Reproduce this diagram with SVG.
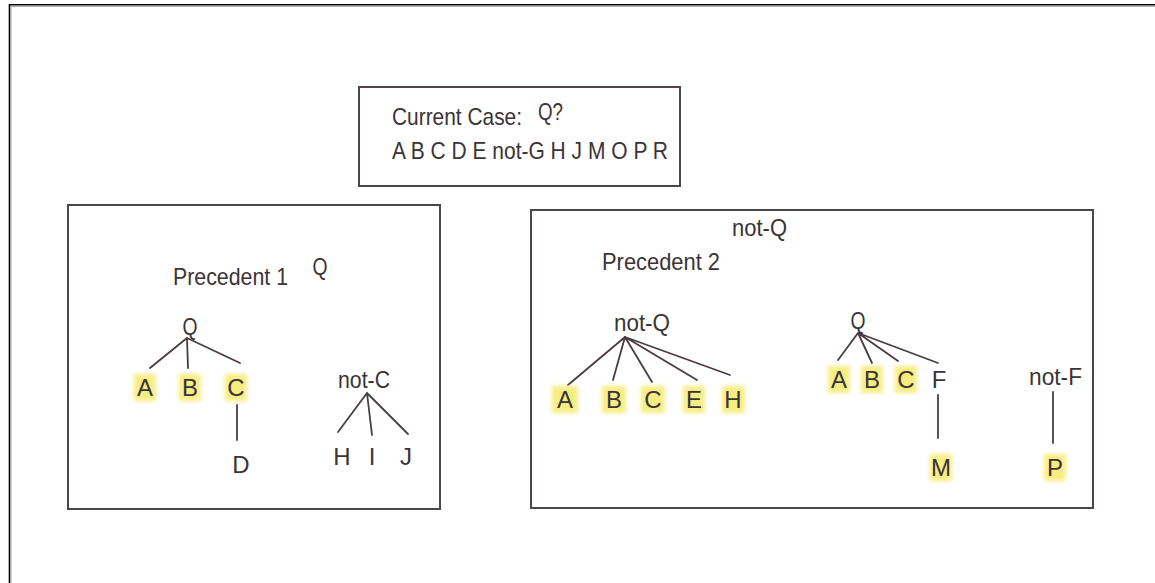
<svg xmlns="http://www.w3.org/2000/svg" width="1155" height="583" viewBox="0 0 1155 583">
  <defs>
    <filter id="glow" x="-40%" y="-40%" width="180%" height="180%">
      <feGaussianBlur stdDeviation="2"/>
    </filter>
    <style>
      .frame { fill: none; stroke: #4e4449; stroke-width: 2; }
      .txt { font-family: "Liberation Sans", "DejaVu Sans", sans-serif; font-size: 24px; fill: #3b3336; }
      .mid { text-anchor: middle; }
      .edge { stroke: #4a3c42; stroke-width: 1.8; stroke-linecap: round; fill: none; }
      .hl { fill: #f2e64e; opacity: 0.7; filter: url(#glow); }
    </style>
  </defs>

  <rect x="0" y="0" width="1155" height="583" fill="#ffffff"/>

  <!-- outer page edge -->
  <g id="page-edge">
    <path d="M9.5 583 V4.8 H1155" fill="none" stroke="#000000" stroke-width="1.6"/>
    <path d="M11 583 V6.4 H1155" fill="none" stroke="#a8a8a8" stroke-width="1"/>
  </g>

  <!-- current case -->
  <g id="current-case">
    <rect class="frame" x="359" y="87" width="321" height="99"/>
    <text class="txt" x="392" y="125" textLength="130" lengthAdjust="spacingAndGlyphs">Current Case:</text>
    <text class="txt" x="538" y="120" textLength="25" lengthAdjust="spacingAndGlyphs">Q?</text>
    <text class="txt" x="392" y="159" textLength="276" lengthAdjust="spacingAndGlyphs">A B C D E not-G H J M O P R</text>
  </g>

  <!-- precedent 1 -->
  <g id="precedent-1">
    <rect class="frame" x="68" y="205" width="372" height="304"/>
    <text class="txt" x="173" y="285" textLength="115" lengthAdjust="spacingAndGlyphs">Precedent 1</text>
    <text class="txt mid" x="320" y="275" textLength="15" lengthAdjust="spacingAndGlyphs">Q</text>
  </g>

  <!-- precedent 2 -->
  <g id="precedent-2">
    <rect class="frame" x="531" y="210" width="562" height="298"/>
    <text class="txt" x="732" y="236" textLength="55" lengthAdjust="spacingAndGlyphs">not-Q</text>
    <text class="txt" x="602" y="270" textLength="118" lengthAdjust="spacingAndGlyphs">Precedent 2</text>
  </g>

  <!-- connectors -->
  <g id="connectors">
    <path class="edge" d="M187 338 L150 368 M187 338 L188 368 M187 338 L240 363"/>
    <path class="edge" d="M237 405 L237 440"/>
    <path class="edge" d="M367 393 L338 432 M367 393 L372 435 M367 393 L408 434"/>
    <path class="edge" d="M625 337 L568 385 M625 337 L613 380 M625 337 L652 382 M625 337 L697 380 M625 337 L730 375"/>
    <path class="edge" d="M858 333 L838 360 M858 333 L872 363 M858 333 L898 361 M858 333 L938 363"/>
    <path class="edge" d="M938 395 L938 438"/>
    <path class="edge" d="M1053 392 L1053 443"/>
  </g>

  <!-- precedent 1 trees -->
  <g id="p1-q"><text class="txt mid" x="190" y="335" textLength="15" lengthAdjust="spacingAndGlyphs">Q</text></g>
  <g id="p1-a"><rect class="hl" x="134" y="374" width="22" height="27"/><text class="txt mid" x="145" y="396">A</text></g>
  <g id="p1-b"><rect class="hl" x="179" y="374" width="22" height="27"/><text class="txt mid" x="190" y="396">B</text></g>
  <g id="p1-c"><rect class="hl" x="225" y="374" width="22" height="27"/><text class="txt mid" x="236" y="396">C</text></g>
  <g id="p1-d"><text class="txt mid" x="241" y="473">D</text></g>
  <g id="p1-not-c"><text class="txt" x="338" y="388" textLength="52" lengthAdjust="spacingAndGlyphs">not-C</text></g>
  <g id="p1-h"><text class="txt mid" x="342" y="465">H</text></g>
  <g id="p1-i"><text class="txt mid" x="372" y="465">I</text></g>
  <g id="p1-j"><text class="txt mid" x="406" y="465">J</text></g>

  <!-- precedent 2 trees -->
  <g id="p2-not-q"><text class="txt" x="614" y="331" textLength="56" lengthAdjust="spacingAndGlyphs">not-Q</text></g>
  <g id="p2-a1"><rect class="hl" x="552" y="386" width="26" height="27"/><text class="txt mid" x="565" y="408">A</text></g>
  <g id="p2-b1"><rect class="hl" x="602" y="386" width="24" height="27"/><text class="txt mid" x="614" y="408">B</text></g>
  <g id="p2-c1"><rect class="hl" x="641" y="386" width="24" height="27"/><text class="txt mid" x="653" y="408">C</text></g>
  <g id="p2-e1"><rect class="hl" x="683" y="386" width="22" height="27"/><text class="txt mid" x="694" y="408">E</text></g>
  <g id="p2-h1"><rect class="hl" x="722" y="386" width="23" height="27"/><text class="txt mid" x="733" y="408">H</text></g>

  <g id="p2-q"><text class="txt mid" x="858" y="329" textLength="15" lengthAdjust="spacingAndGlyphs">Q</text></g>
  <g id="p2-a2"><rect class="hl" x="828" y="366" width="22" height="27"/><text class="txt mid" x="839" y="388">A</text></g>
  <g id="p2-b2"><rect class="hl" x="861" y="366" width="22" height="27"/><text class="txt mid" x="872" y="388">B</text></g>
  <g id="p2-c2"><rect class="hl" x="895" y="366" width="22" height="27"/><text class="txt mid" x="906" y="388">C</text></g>
  <g id="p2-f"><text class="txt mid" x="939" y="388">F</text></g>
  <g id="p2-m"><rect class="hl" x="930" y="454" width="22" height="27"/><text class="txt mid" x="941" y="476">M</text></g>
  <g id="p2-not-f"><text class="txt" x="1029" y="385" textLength="53" lengthAdjust="spacingAndGlyphs">not-F</text></g>
  <g id="p2-p"><rect class="hl" x="1044" y="454" width="22" height="27"/><text class="txt mid" x="1055" y="476">P</text></g>
</svg>
